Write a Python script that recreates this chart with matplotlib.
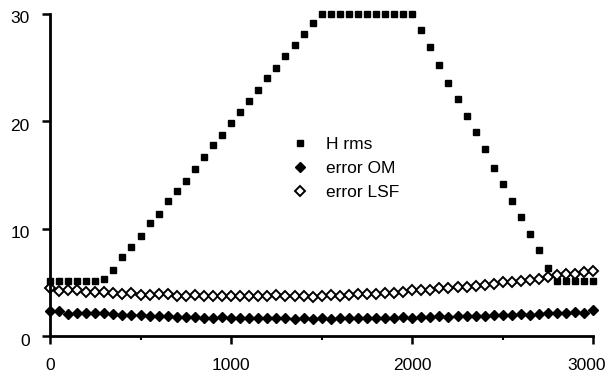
import numpy as np
import matplotlib
matplotlib.use("Agg")
import matplotlib.pyplot as plt
import matplotlib.transforms as mtransforms

plt.rcParams['font.family'] = ['Liberation Sans', 'DejaVu Sans']

# x positions (every 50 units from 0 to 3000)
x_vals = list(range(0, 3001, 50))

h_rms = [5.1, 5.1, 5.1, 5.1, 5.1, 5.1, 5.3,
         6.2, 7.4, 8.3, 9.3, 10.5, 11.4, 12.6, 13.5, 14.4, 15.6, 16.7, 17.8,
         18.7, 19.8, 20.9, 21.9, 22.9, 24.0, 25.0, 26.1, 27.1, 28.1, 29.2,
         30, 30, 30, 30, 30, 30, 30, 30, 30, 30, 30,
         28.5, 26.9, 25.2, 23.6, 22.1, 20.5, 19.0, 17.4, 15.7, 14.2, 12.6,
         11.1, 9.55, 8.0, 6.3,
         5.1, 5.1, 5.1, 5.1, 5.1]

error_om = [2.35, 2.3, 2.1, 2.2, 2.15, 2.2, 2.15, 2.05, 2.0, 2.0, 1.95,
            1.9, 1.85, 1.85, 1.8, 1.75, 1.75, 1.7, 1.7, 1.75, 1.7,
            1.65, 1.7, 1.65, 1.7, 1.65, 1.7, 1.6, 1.65, 1.6, 1.65,
            1.6, 1.65, 1.7, 1.65, 1.7, 1.65, 1.7, 1.7, 1.75, 1.7,
            1.8, 1.75, 1.85, 1.8, 1.85, 1.85, 1.9, 1.9, 1.95, 1.95,
            2.0, 2.05, 2.0, 2.1, 2.15, 2.2, 2.15, 2.25, 2.2, 2.45]

error_lsf = [4.5, 4.2, 4.3, 4.25, 4.15, 4.1, 4.15, 4.0, 3.95, 4.0, 3.85,
             3.8, 3.9, 3.95, 3.7, 3.75, 3.8, 3.75, 3.7, 3.75, 3.75,
             3.7, 3.75, 3.7, 3.75, 3.8, 3.7, 3.75, 3.7, 3.65, 3.7,
             3.8, 3.75, 3.85, 3.9, 3.95, 3.95, 4.05, 4.05, 4.1, 4.3,
             4.25, 4.3, 4.45, 4.45, 4.55, 4.6, 4.7, 4.75, 4.85, 5.0,
             5.05, 5.1, 5.25, 5.35, 5.55, 5.7, 5.8, 5.75, 6.0, 6.05]

x_ticks = [0, 1000, 2000, 3000]
y_ticks = [0, 10, 20, 30]

fig = plt.figure(figsize=(6.08, 3.76), dpi=100)
ax = fig.add_axes([0.0822, 0.106, 0.8938, 0.857])

ax.plot(x_vals, h_rms, 's', color='black', markersize=4.8, label='H rms', clip_on=False)
ax.plot(x_vals, error_om, 'D', color='black', markersize=5.4, label='error OM', clip_on=False)
ax.plot(x_vals, error_lsf, 'D', markerfacecolor='white', markeredgecolor='black',
        markeredgewidth=1.4, markersize=5.0, label='error LSF', clip_on=False)

ax.set_xlim(0, 3000)
ax.set_ylim(0, 30)
ax.set_xticks(x_ticks)
ax.set_xticks([500, 1500, 2500], minor=True)
ax.set_yticks(y_ticks)

for side in ['top', 'right']:
    ax.spines[side].set_visible(False)
for side in ['left', 'bottom']:
    ax.spines[side].set_linewidth(2.0)

ax.tick_params(axis='x', which='major', direction='out', length=6, width=1.8,
               labelsize=12.5, pad=10)
ax.tick_params(axis='x', which='minor', direction='out', length=3, width=1.5)
ax.tick_params(axis='y', which='major', direction='out', length=5.5, width=1.8,
               labelsize=12.5, pad=9)

# y labels sit a little below their ticks in the original
shift = mtransforms.ScaledTranslation(0, -2.5 / 72, fig.dpi_scale_trans)
for lbl in ax.get_yticklabels():
    lbl.set_transform(lbl.get_transform() + shift)

# last x label is squeezed against the right edge
xlbls = ax.get_xticklabels()
xlbls[-1].set_transform(xlbls[-1].get_transform() +
                        mtransforms.ScaledTranslation(-5 / 72, 0, fig.dpi_scale_trans))

ax.legend(loc='upper left', bbox_to_anchor=(0.4798, 0.636), bbox_transform=fig.transFigure,
          frameon=False, fontsize=12.5, handlelength=1.0, handletextpad=1.0,
          labelspacing=0.5, borderpad=0, borderaxespad=0, numpoints=1)

plt.savefig('out.png', dpi=100)
plt.close()
